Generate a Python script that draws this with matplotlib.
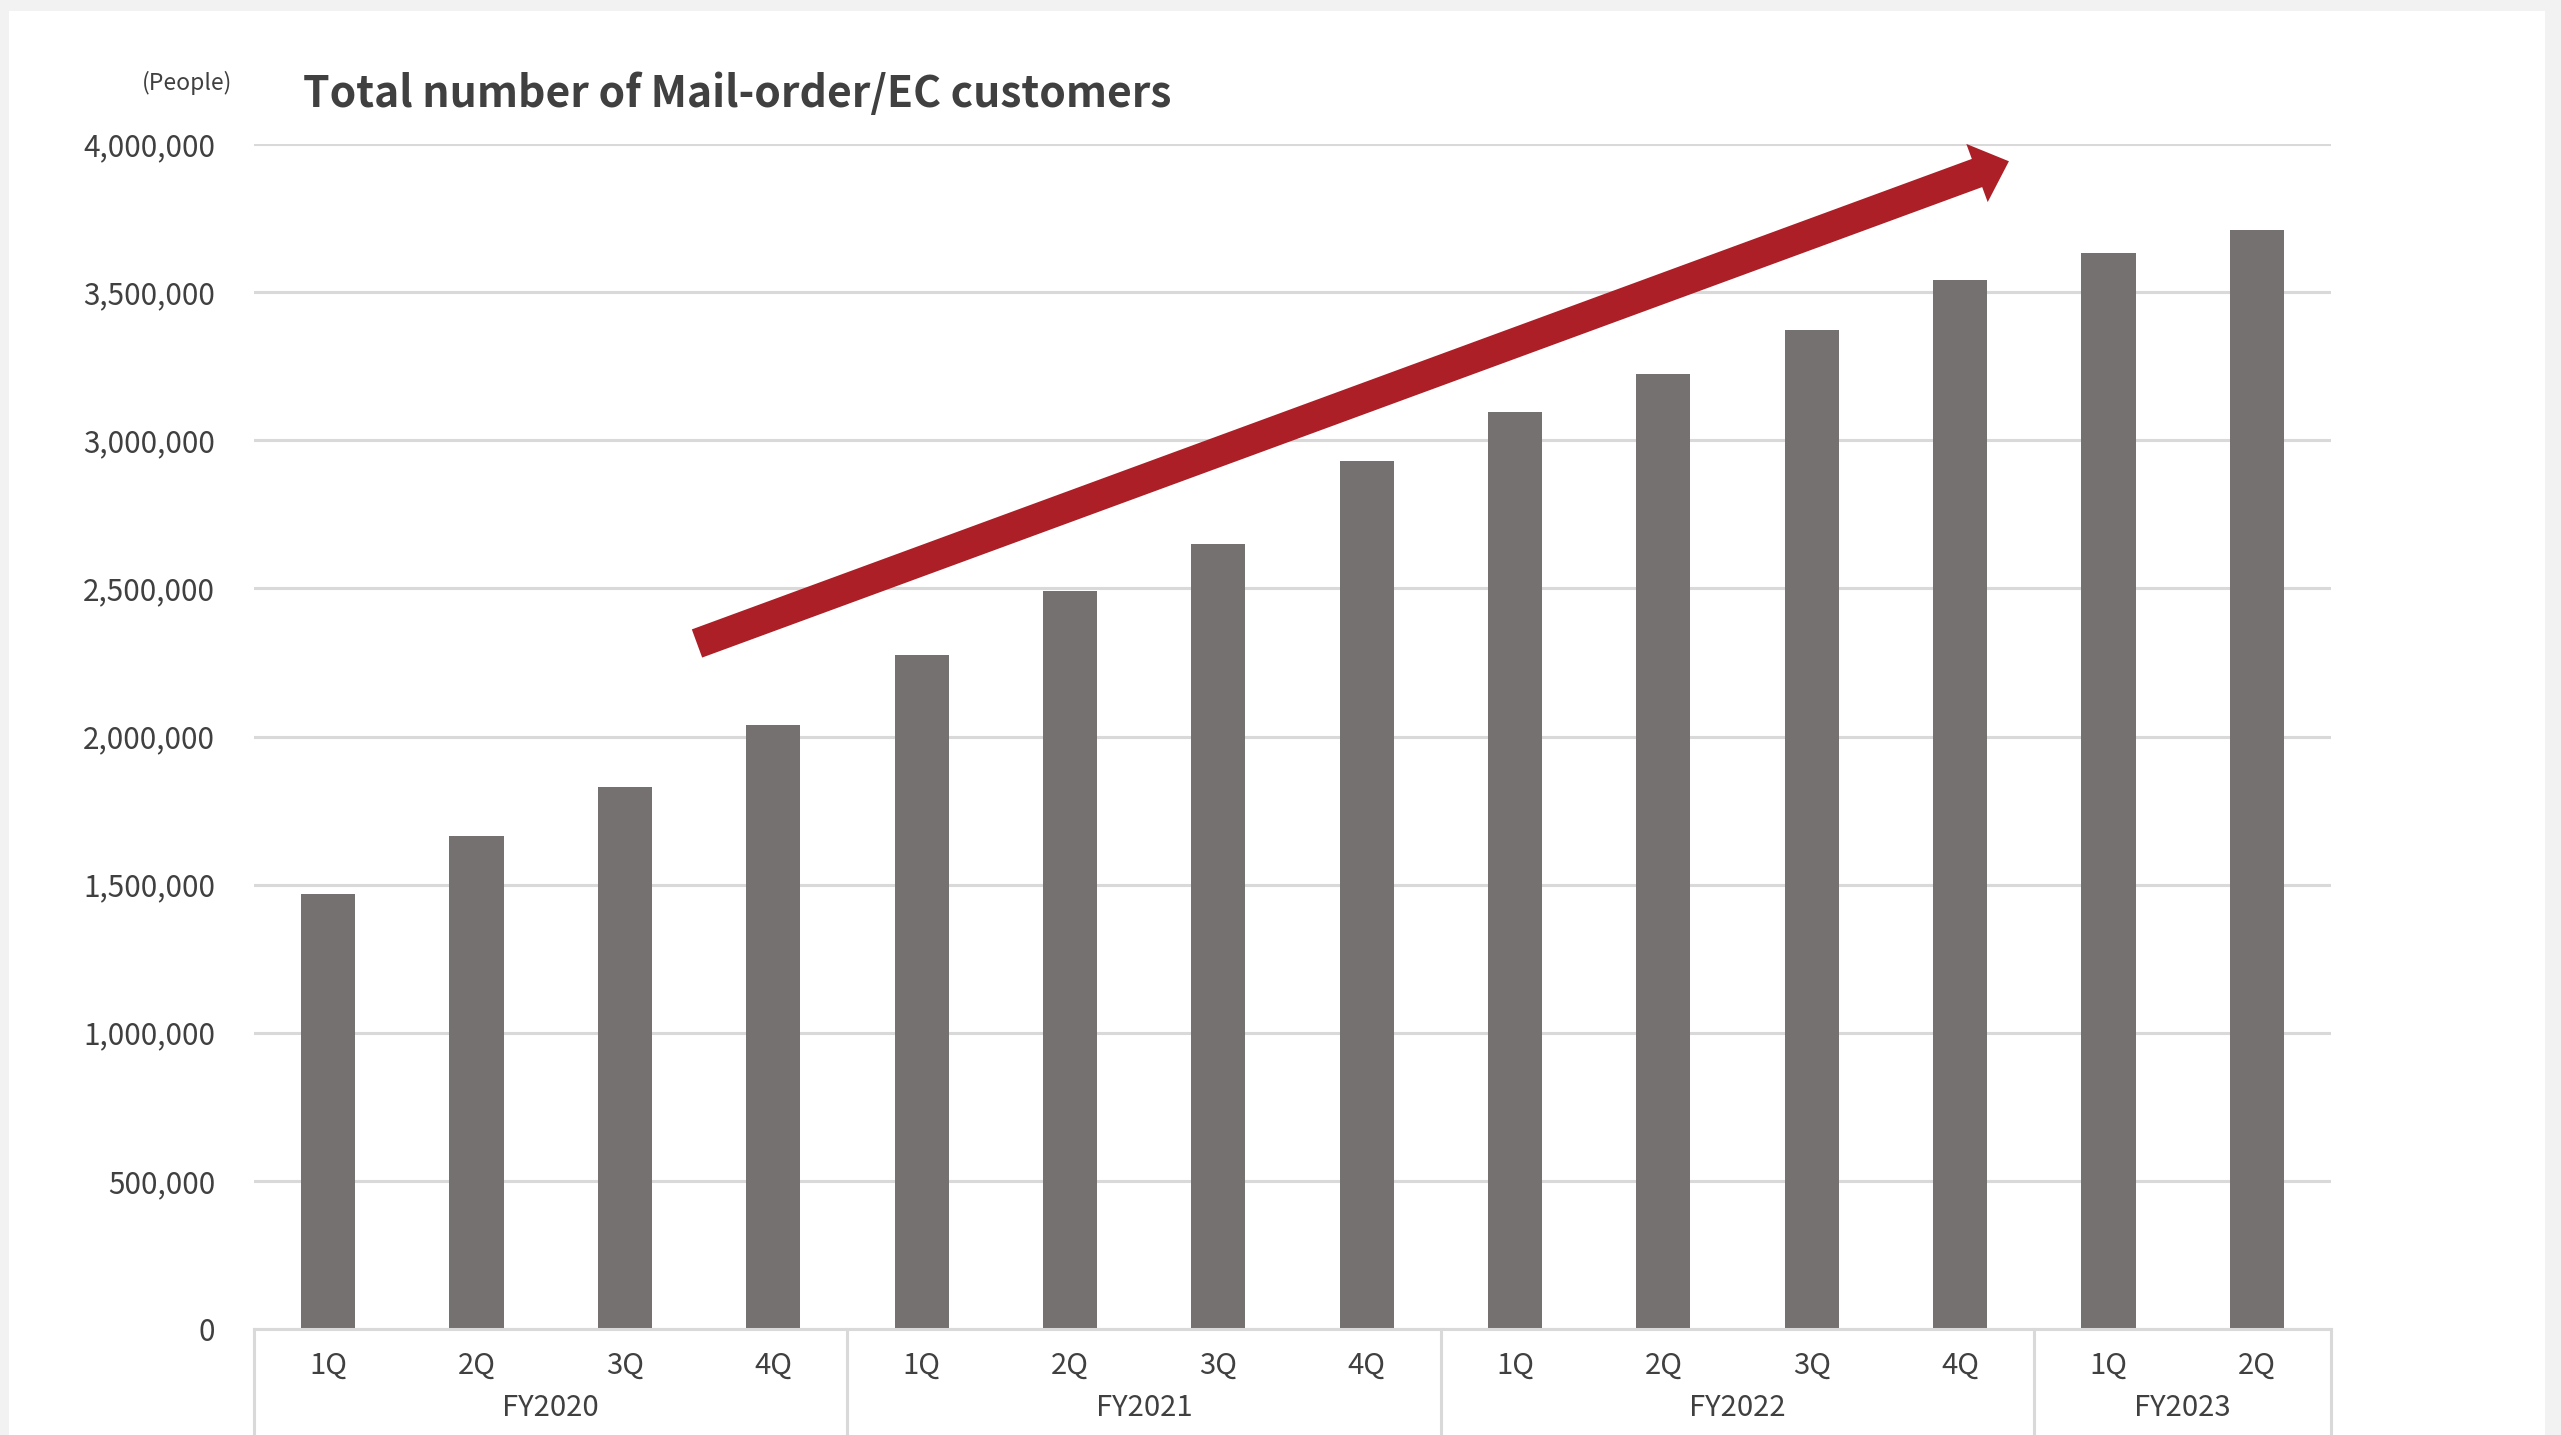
import matplotlib
matplotlib.use("Agg")
import matplotlib.pyplot as plt
from matplotlib.patches import Rectangle, FancyArrow
from matplotlib.transforms import blended_transform_factory, IdentityTransform
from matplotlib.ticker import FuncFormatter

plt.rcParams['font.family'] = ['Noto Sans CJK JP', 'DejaVu Sans']

# Quarterly totals of mail-order / EC customers
quarters = ['1Q', '2Q', '3Q', '4Q', '1Q', '2Q', '3Q', '4Q',
            '1Q', '2Q', '3Q', '4Q', '1Q', '2Q']
fiscal_years = ['FY2020', 'FY2021', 'FY2022', 'FY2023']
quarters_per_year = [4, 4, 4, 2]
customers = [1467700, 1665100, 1828200, 2040400, 2275600, 2491200, 2648200,
             2930400, 3094000, 3223000, 3371000, 3540700, 3630900, 3709700]
y_ticks = [0, 500000, 1000000, 1500000, 2000000, 2500000, 3000000,
           3500000, 4000000]

# Trend arrow endpoints (category index, value)
trend_start = (2.486, 2314000)
trend_end = (11.329, 3941700)

W, H, DPI = 2561, 1435, 100
fig = plt.figure(figsize=(W / DPI, H / DPI), dpi=DPI, facecolor='#f2f2f2')

# white slide panel behind everything
fig.patches.append(Rectangle((9 / W, 0), (2545 - 9) / W, (H - 11) / H,
                             transform=fig.transFigure, facecolor='white',
                             edgecolor='none', zorder=-10))

left, right, top, bottom = 254, 2331, 144, 1329
ax = fig.add_axes([left / W, (H - bottom) / H, (right - left) / W,
                   (bottom - top) / H])
ax.patch.set_visible(False)
ax.set_zorder(1)

text_color = '#404040'
grid_color = '#d9d9d9'

x = list(range(len(customers)))
ax.bar(x, customers, width=0.365, color='#767171', zorder=3)

ax.set_xlim(-0.5, len(customers) - 0.5)
ax.set_ylim(0, 4000000)
ax.set_yticks(y_ticks)
ax.yaxis.set_major_formatter(FuncFormatter(lambda v, p: f'{int(v):,}'))
ax.tick_params(axis='y', length=0, pad=28, labelsize=21.4, labelcolor=text_color)
for lbl in ax.get_yticklabels():
    lbl.set_va('center_baseline')
ax.set_xticks([])
ax.grid(axis='y', color=grid_color, linewidth=2.2, zorder=0)
for s in ax.spines.values():
    s.set_visible(False)

# category axis box
trans = blended_transform_factory(ax.transData, ax.transAxes)
ax_h = bottom - top
box_bottom = -(H - bottom) / ax_h
ax.plot([-0.5, len(customers) - 0.5], [0, 0], transform=trans,
        color=grid_color, linewidth=2.2, clip_on=False, zorder=4)
edge = -0.5
ax.plot([edge, edge], [0, box_bottom], transform=trans, color=grid_color,
        linewidth=2.2, clip_on=False)
for fy, n in zip(fiscal_years, quarters_per_year):
    ax.text(edge + n / 2, -(1408 - bottom) / ax_h, fy, transform=trans,
            ha='center', va='center', fontsize=21, color=text_color)
    edge += n
    ax.plot([edge, edge], [0, box_bottom], transform=trans, color=grid_color,
            linewidth=2.2, clip_on=False)

for xi, q in zip(x, quarters):
    ax.text(xi, -(1366 - bottom) / ax_h, q, transform=trans, ha='center',
            va='center', fontsize=21, color=text_color)

# title and unit
fig.text(303 / W, 1 - 107 / H, 'Total number of Mail-order/EC customers',
         ha='left', va='baseline', fontsize=30.7, fontweight='bold',
         color=text_color)
fig.text(232 / W, 1 - 83 / H, '(People)', ha='right', va='center',
         fontsize=16.5, color=text_color)

# growth arrow drawn in pixel space so the shaft keeps a constant width
fig.canvas.draw()
p0 = ax.transData.transform(trend_start)
p1 = ax.transData.transform(trend_end)
arrow = FancyArrow(p0[0], p0[1], p1[0] - p0[0], p1[1] - p0[1], width=30,
                   head_width=62, head_length=34, length_includes_head=True,
                   transform=IdentityTransform(), facecolor='#ad1f26',
                   edgecolor='none', zorder=5)
fig.patches.append(arrow)

fig.savefig('out.png', dpi=DPI, facecolor=fig.get_facecolor())
